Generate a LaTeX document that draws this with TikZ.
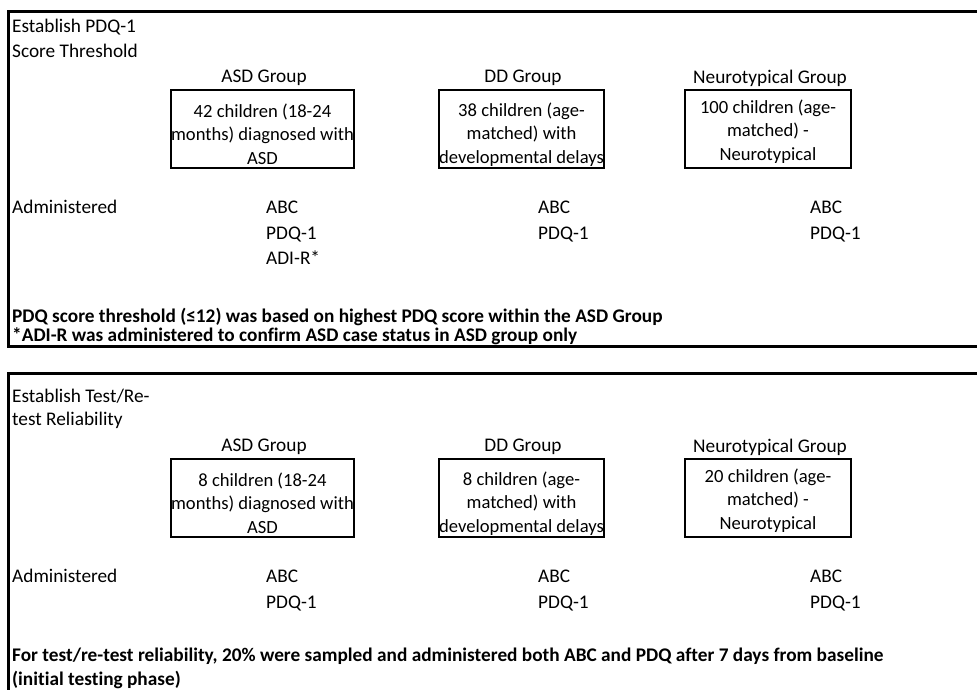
\documentclass[tikz,border=0pt]{standalone}
\usepackage{fontspec}
\setmainfont{Carlito}[Ligatures=NoCommon]
\usetikzlibrary{positioning}
\tikzset{
  txt/.style={font=\fontsize{19.3}{24}\selectfont, inner sep=0pt},
  bold/.style={txt, anchor=west, font=\fontsize{19.3}{24}\selectfont\bfseries},
  panel/.style={draw, line width=3pt},
  grpbox/.style={draw, line width=2.8pt, minimum height=78pt, align=center,
    inner sep=0pt, font=\fontsize{18.6}{23.5}\selectfont},
  tests/.style={txt, anchor=north west, align=left, font=\fontsize{19.3}{25.5}\selectfont},
}
\newcommand\tallrow[1]{\rule{0pt}{#1pt}}
\begin{document}
\begin{tikzpicture}[x=1pt,y=-1pt]
  \clip (0,0) rectangle (977,690);
  \draw[panel] (1000,12) -- (8,12) -- (8,346) -- (1000,346);
  \draw[panel] (1000,373) -- (8,373) -- (8,700);
  % two panels, same layout
  \foreach \dy/\tl/\tll/\na/\nd/\nn in {
      0/{Establish PDQ-1}/{Score Threshold}/42/38/100,
      369/{Establish Test/Re-}/{test Reliability}/8/8/20} {
    \begin{scope}[yshift=-\dy pt]
      \node[txt, anchor=west] (title) at (12,27) {\tl};
      \node[txt, anchor=west] (title2) at (12,51) {\tll};
      \node[txt] (asd) at (264,78) {ASD Group};
      \node[txt] (dd) at (523,78) {DD Group};
      \node[txt] (nt) at (770,78) {Neurotypical Group};
      \node[grpbox, minimum width=183pt] (asdbox) at (262.5,129)
        {\tallrow{24}\na\ children (18-24\\months) diagnosed with\\ASD};
      \node[grpbox, minimum width=165pt] (ddbox) at (521.5,129)
        {\tallrow{24}\nd\ children (age-\\matched) with\\developmental delays};
      \node[grpbox, minimum width=166pt] (ntbox) at (768,129)
        {\tallrow{18}\nn\ children (age-\\matched) -\\Neurotypical};
      \node[txt, anchor=base west] (adm) at (12,213.5) {Administered};
      \node[tests] (ddtests) at (538,201) {ABC\\PDQ-1};
      \node[tests] (nttests) at (810,201) {ABC\\PDQ-1};
    \end{scope}
  }
  \node[tests] (asdtests) at (266,201) {ABC\\PDQ-1\\ADI-R*};
  \node[tests] (asdtests2) at (266,570) {ABC\\PDQ-1};
  \node[bold] (note1) at (12,317)
    {PDQ score threshold (≤12) was based on highest PDQ score within the ASD Group};
  \node[bold] (note2) at (12,336)
    {*ADI-R was administered to confirm ASD case status in ASD group only};
  \node[bold] (note3) at (12,656)
    {For test/re-test reliability, 20\% were sampled and administered both ABC and PDQ after 7 days from baseline};
  \node[bold] (note4) at (12,680)
    {(initial testing phase)};
\end{tikzpicture}
\end{document}
